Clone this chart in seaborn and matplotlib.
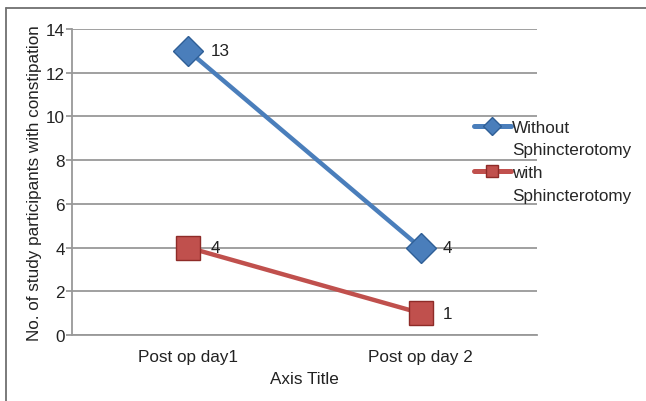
import matplotlib
matplotlib.use("Agg")
import matplotlib.pyplot as plt
from matplotlib.lines import Line2D
import seaborn as sns
import pandas as pd

days = ["Post op day1", "Post op day 2"]
without_sph = [13, 4]
with_sph = [4, 1]
series_names = ["Without Sphincterotomy", "with Sphincterotomy"]
y_ticks = [0, 2, 4, 6, 8, 10, 12, 14]

df = pd.DataFrame({
    "day": days * 2,
    "count": without_sph + with_sph,
    "group": [series_names[0]] * 2 + [series_names[1]] * 2,
})

sns.set_style("white")
plt.rcParams["font.family"] = ["Liberation Sans", "DejaVu Sans"]

FS = 12.3
TXT = "#222222"

fig = plt.figure(figsize=(6.46, 4.02), dpi=100)
ax = fig.add_axes([0.1115, 0.1642, 0.7195, 0.7612])

palette = {series_names[0]: "#4A7EBB", series_names[1]: "#C0504D"}
edges = {series_names[0]: "#2F5F96", series_names[1]: "#8E2B28"}
markers = {series_names[0]: "D", series_names[1]: "s"}
sizes = {series_names[0]: 15, series_names[1]: 17}

for name in series_names:
    sub = df[df["group"] == name]
    sns.lineplot(data=sub, x="day", y="count", ax=ax, color=palette[name],
                 linewidth=3.2, marker=markers[name], markersize=sizes[name],
                 markeredgecolor=edges[name], markeredgewidth=1.0,
                 label=name, legend=False, zorder=3)
    for xi, yi in zip(range(len(days)), sub["count"]):
        ax.annotate(str(yi), (xi, yi), xytext=(16, 0), textcoords="offset points",
                    va="center", ha="left", fontsize=FS, color=TXT, zorder=4)

ax.set_xlim(-0.5, 1.5)
ax.set_ylim(0, 14)
ax.set_yticks(y_ticks)
ax.set_yticklabels([str(t) for t in y_ticks], fontsize=FS, color=TXT)
ax.set_xticks(range(len(days)))
ax.set_xticklabels(days, fontsize=FS, color=TXT)
ax.grid(axis="y", color="#999999", linewidth=1.3)
ax.set_axisbelow(True)
for side in ["top", "right"]:
    ax.spines[side].set_visible(False)
ax.spines["left"].set_color("#999999")
ax.spines["left"].set_linewidth(1.3)
ax.spines["bottom"].set_color("#999999")
ax.spines["bottom"].set_linewidth(1.3)
ax.tick_params(axis="y", length=4, width=1.3, color="#999999", pad=1, left=True)
ax.tick_params(axis="x", length=0, pad=10)
ax.set_xlabel("Axis Title", fontsize=FS, color=TXT, labelpad=5)
ax.set_ylabel("No. of study participants with constipation", fontsize=FS,
              color=TXT, labelpad=3)

# legend: each series name wraps onto two lines, handle beside the first line
handles, labels = [], []
for n in series_names:
    first, second = n.split(" ", 1)
    handles.append(Line2D([], [], color=palette[n], linewidth=3.6, marker=markers[n],
                          markersize=9, markeredgecolor=edges[n]))
    labels.append(first)
    handles.append(Line2D([], [], linestyle="none"))
    labels.append(second)
fig.legend(handles, labels, loc="upper left", bbox_to_anchor=(0.733, 0.70),
           frameon=False, fontsize=FS, handlelength=2.2, handletextpad=0.05,
           labelspacing=0.45, borderaxespad=0, borderpad=0)

# figure frame: top and left edges
fig.add_artist(Line2D([0.0093, 1.0], [0.9776, 0.9776], transform=fig.transFigure,
                      color="#707070", linewidth=1.3))
fig.add_artist(Line2D([0.0093, 0.0093], [0.0, 0.9776], transform=fig.transFigure,
                      color="#707070", linewidth=1.3))

fig.savefig("out.png", dpi=100)
